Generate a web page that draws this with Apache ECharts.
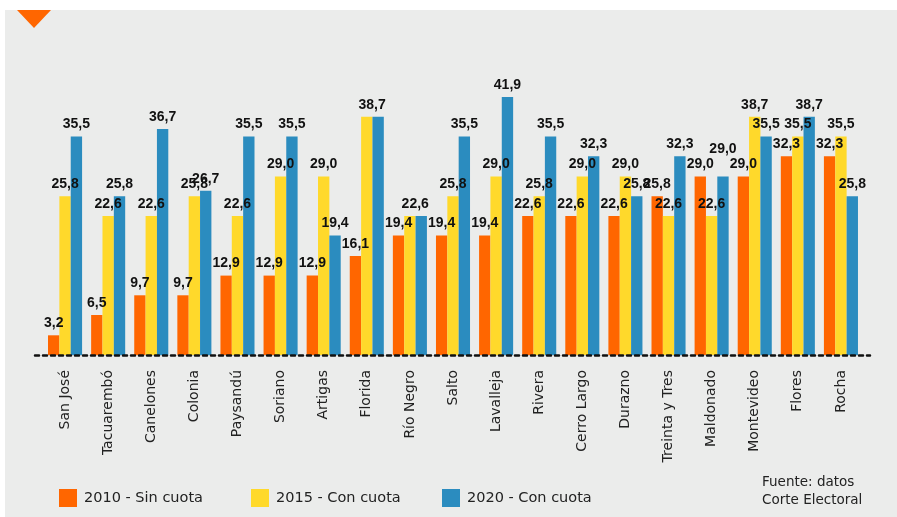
<!DOCTYPE html>
<html lang="es">
<head>
	<meta charset="utf-8">
	<title>Representación femenina por departamento</title>
	<script src="https://cdn.jsdelivr.net/npm/echarts@6/dist/echarts.min.js"></script>
	<style type="text/css">
		html, body {margin:0;padding:0;background:#FFFFFF}
		#chart {width:897px;height:517px}
	</style>
</head>
<body>
	<div id="chart"></div>
	<script>
		// departamentos, en el orden del gráfico
		var departamentos = ['San José', 'Tacuarembó', 'Canelones', 'Colonia', 'Paysandú', 'Soriano', 'Artigas',
			'Florida', 'Río Negro', 'Salto', 'Lavalleja', 'Rivera', 'Cerro Largo', 'Durazno', 'Treinta y Tres',
			'Maldonado', 'Montevideo', 'Flores', 'Rocha'];
		var serie2010 = [3.2, 6.5, 9.7, 9.7, 12.9, 12.9, 12.9, 16.1, 19.4, 19.4, 19.4, 22.6, 22.6, 22.6, 25.8, 29.0, 29.0, 32.3, 32.3];
		var serie2015 = [25.8, 22.6, 22.6, 25.8, 22.6, 29.0, 29.0, 38.7, 22.6, 25.8, 29.0, 25.8, 29.0, 29.0, 22.6, 22.6, 38.7, 35.5, 35.5];
		var serie2020 = [35.5, 25.8, 36.7, 26.7, 35.5, 35.5, 19.4, 38.7, 22.6, 35.5, 41.9, 35.5, 32.3, 25.8, 32.3, 29.0, 35.5, 38.7, 25.8];
		var nombres = ['2010 - Sin cuota', '2015 - Con cuota', '2020 - Con cuota'];
		var colores = ['#FF6600', '#FFD92B', '#2B8CBF'];

		var labelFont = {fontFamily:'Liberation Sans, Arial, sans-serif', fontWeight:'bold', fontSize:14, color:'#111111'};
		var textFont = 'DejaVu Sans, sans-serif';

		function fmt(p) {
			return p.value.toFixed(1).replace('.', ',');
		}

		// cuando dos barras vecinas tienen el mismo valor se muestra una sola etiqueta
		function datos(valores, serieIdx) {
			return valores.map(function (v, i) {
				var item = {value: v};
				if (serieIdx == 1 && serie2020[i] == v) {
					item.label = {show: false};
				}
				if (serieIdx == 2 && serie2015[i] == v) {
					item.label = {offset: [-6, 0]};
				}
				if (serieIdx == 2 && serie2010[i] == v && serie2015[i] != v) {
					item.label = {offset: [0, -15]};
				}
				return item;
			});
		}

		var series = [serie2010, serie2015, serie2020].map(function (vals, k) {
			return {
				name: nombres[k],
				type: 'bar',
				xAxisIndex: 0,
				yAxisIndex: 0,
				barGap: '0%',
				barCategoryGap: '21%',
				itemStyle: {color: colores[k]},
				label: Object.assign({show:true, position:'top', distance:5, formatter:fmt}, labelFont),
				data: datos(vals, k)
			};
		});

		function leyenda(k, left) {
			return {
				data: [nombres[k]],
				left: left,
				top: 489,
				padding: 0,
				icon: 'rect',
				itemWidth: 18,
				itemHeight: 18,
				itemGap: 0,
				textStyle: {fontFamily:textFont, fontSize:14.5, color:'#222222', padding:[0,0,0,2]}
			};
		}

		var myChart = echarts.init(document.getElementById('chart'));
		var option = {
			animation: false,
			title: {
				text: 'Fuente: datos\nCorte Electoral',
				left: 762,
				top: 473,
				padding: 0,
				textStyle: {fontFamily:textFont, fontSize:13.5, fontWeight:'normal', color:'#222222', lineHeight:18}
			},
			legend: [leyenda(0, 59), leyenda(1, 251), leyenda(2, 442)],
			graphic: [
				{type:'rect', z:-10, shape:{x:5, y:10, width:892, height:507}, style:{fill:'#EBECEB'}},
				{type:'polygon', shape:{points:[[17,10],[51,10],[34,28]]}, style:{fill:'#FF6600'}}
			],
			grid: [
				{left:43.5, right:34.5, top:78, bottom:162},
				{left:35, right:27, top:78, bottom:162}
			],
			xAxis: [
				{
					type: 'category',
					gridIndex: 0,
					data: departamentos,
					axisLine: {show:false},
					axisTick: {show:false},
					axisLabel: {rotate:90, margin:15, fontFamily:textFont, fontSize:14, color:'#222222'}
				},
				{
					type: 'value',
					gridIndex: 1,
					min: 0,
					max: 1,
					z: 5,
					axisLine: {show:true, lineStyle:{color:'#111111', width:2.5, type:[4,4]}},
					axisTick: {show:false},
					axisLabel: {show:false},
					splitLine: {show:false}
				}
			],
			yAxis: [
				{type:'value', gridIndex:0, min:0, max:45, show:false, splitLine:{show:false}},
				{type:'value', gridIndex:1, min:0, max:1, show:false, splitLine:{show:false}}
			],
			series: series
		};
		myChart.setOption(option);
	</script>
</body>
</html>
